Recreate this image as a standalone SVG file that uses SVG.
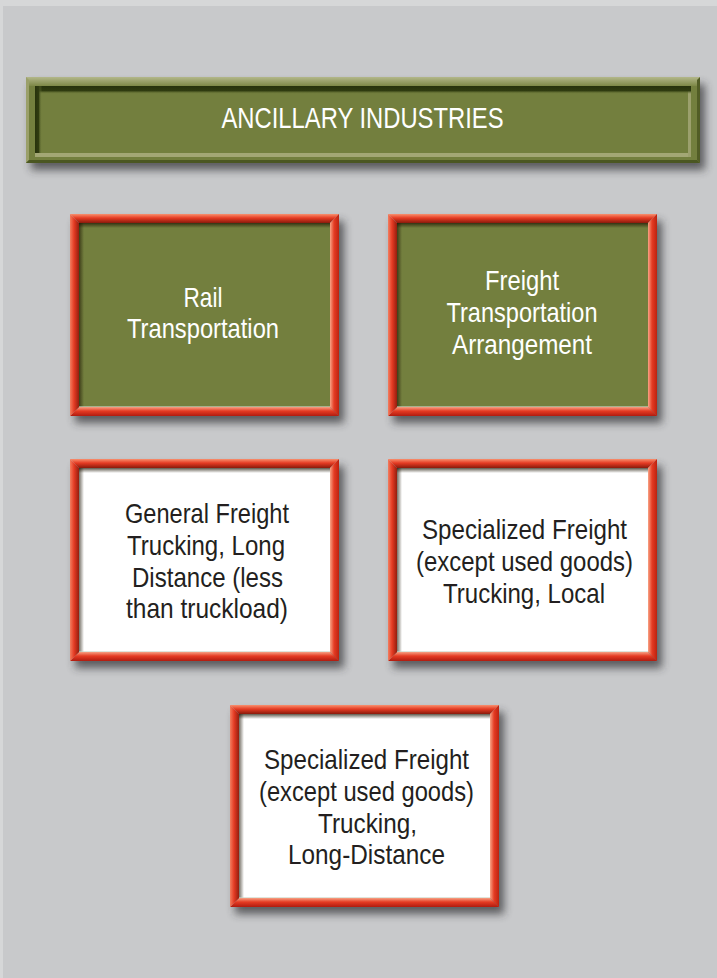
<svg xmlns="http://www.w3.org/2000/svg" xmlns:xlink="http://www.w3.org/1999/xlink" width="717" height="978" viewBox="0 0 717 978">
  <style>
    .lbl { font-family: "Liberation Sans", Arial, sans-serif; font-size: 28px; text-anchor: middle; }
    .on-green { fill: #ffffff; }
    .on-white { fill: #231f20; }
    .title { font-family: "Liberation Sans", Arial, sans-serif; font-size: 30px; fill: #ffffff; text-anchor: middle; }
    .shadow { fill: #2e2f33; opacity: 0.7; filter: url(#soft); }
    .green { fill: #737f3e; }
    .white { fill: #ffffff; }
  </style>
  <defs>
    <filter id="soft" x="-10%" y="-10%" width="120%" height="130%">
      <feGaussianBlur stdDeviation="4"/>
    </filter>
    <linearGradient id="insetTop" x1="0" y1="0" x2="0" y2="1">
      <stop offset="0" stop-color="#1a1200" stop-opacity="0.7"/>
      <stop offset="1" stop-color="#1a1200" stop-opacity="0"/>
    </linearGradient>
    <linearGradient id="insetLeft" x1="0" y1="0" x2="1" y2="0">
      <stop offset="0" stop-color="#1a1200" stop-opacity="0.6"/>
      <stop offset="1" stop-color="#1a1200" stop-opacity="0"/>
    </linearGradient>
    <!-- bevel ramps: outer edge to inner edge of each side of the frame -->
    <linearGradient id="ringTop" x1="0" y1="0" x2="0" y2="1">
      <stop offset="0" stop-color="#f8906f"/>
      <stop offset="0.45" stop-color="#e53b23"/>
      <stop offset="1" stop-color="#8a1a0c"/>
    </linearGradient>
    <linearGradient id="ringBottom" x1="0" y1="0" x2="0" y2="1">
      <stop offset="0" stop-color="#f6a083"/>
      <stop offset="0.45" stop-color="#e53b23"/>
      <stop offset="1" stop-color="#b01c10"/>
    </linearGradient>
    <linearGradient id="ringLeft" x1="0" y1="0" x2="1" y2="0">
      <stop offset="0" stop-color="#f27e60"/>
      <stop offset="0.45" stop-color="#e53b23"/>
      <stop offset="1" stop-color="#951d0e"/>
    </linearGradient>
    <linearGradient id="ringRight" x1="0" y1="0" x2="1" y2="0">
      <stop offset="0" stop-color="#f8a486"/>
      <stop offset="0.45" stop-color="#e53b23"/>
      <stop offset="1" stop-color="#bc220f"/>
    </linearGradient>
    <linearGradient id="olivTop" x1="0" y1="0" x2="0" y2="1">
      <stop offset="0" stop-color="#b3b78a"/>
      <stop offset="1" stop-color="#7d8846"/>
    </linearGradient>
    <linearGradient id="oliveInsetTop" x1="0" y1="0" x2="0" y2="1">
      <stop offset="0" stop-color="#27320c"/>
      <stop offset="0.6" stop-color="#2f3b10"/>
      <stop offset="1" stop-color="#737f3e" stop-opacity="0"/>
    </linearGradient>
    <linearGradient id="oliveInsetLeft" x1="0" y1="0" x2="1" y2="0">
      <stop offset="0" stop-color="#27320c"/>
      <stop offset="0.5" stop-color="#2f3b10"/>
      <stop offset="1" stop-color="#737f3e" stop-opacity="0"/>
    </linearGradient>

    <!-- red bevelled frame, 269 x 202, 9px border; drawn over the panel fill -->
    <g id="frame">
      <polygon points="0,0 269,0 260,9 9,9" fill="url(#ringTop)"/>
      <polygon points="0,202 9,193 260,193 269,202" fill="url(#ringBottom)"/>
      <polygon points="0,0 9,9 9,193 0,202" fill="url(#ringLeft)"/>
      <polygon points="269,0 269,202 260,193 260,9" fill="url(#ringRight)"/>
      <rect x="9" y="9" width="251" height="5" fill="url(#insetTop)"/>
      <rect x="9" y="9" width="5" height="184" fill="url(#insetLeft)"/>
      <rect x="9" y="192" width="251" height="1" fill="#c9d3c4" opacity="0.6"/>
    </g>
  </defs>

  <!-- page -->
  <rect x="0" y="0" width="717" height="978" fill="#d6d7d8"/>
  <rect x="3" y="6" width="714" height="972" fill="#c8c9cb"/>

  <!-- title banner -->
  <g id="node-title">
    <rect class="shadow" x="31" y="84" width="674" height="86"/>
    <g transform="translate(26,77)">
      <rect x="0" y="0" width="674" height="86" fill="#737f3e"/>
      <rect x="0" y="0" width="674" height="9" fill="url(#olivTop)"/>
      <polygon points="0,0 3,3 3,83 0,86" fill="#9ba06a"/>
      <polygon points="0,86 3,83 671,83 674,86" fill="#4b5722"/>
      <polygon points="674,0 674,86 671,83 671,3" fill="#525d26"/>
      <rect x="9" y="76" width="656" height="4" fill="#a3a775"/>
      <rect x="662" y="9" width="3" height="71" fill="#9ca06d"/>
      <rect x="9" y="9" width="656" height="8" fill="url(#oliveInsetTop)"/>
      <rect x="9" y="9" width="7" height="67" fill="url(#oliveInsetLeft)"/>
    </g>
    <text class="title" x="362.5" y="128" textLength="282" lengthAdjust="spacingAndGlyphs">ANCILLARY INDUSTRIES</text>
  </g>

  <!-- Rail Transportation -->
  <g id="node-rail">
    <rect class="shadow" x="75" y="221" width="269" height="202"/>
    <rect class="green" x="79" y="223" width="251" height="184"/>
    <use xlink:href="#frame" href="#frame" x="70" y="214"/>
    <text class="lbl on-green" x="203" y="307" textLength="39" lengthAdjust="spacingAndGlyphs">Rail</text>
    <text class="lbl on-green" x="203" y="338" textLength="152" lengthAdjust="spacingAndGlyphs">Transportation</text>
  </g>

  <!-- Freight Transportation Arrangement -->
  <g id="node-arrangement">
    <rect class="shadow" x="393" y="221" width="269" height="202"/>
    <rect class="green" x="397" y="223" width="251" height="184"/>
    <use xlink:href="#frame" href="#frame" x="388" y="214"/>
    <text class="lbl on-green" x="522" y="290" textLength="74" lengthAdjust="spacingAndGlyphs">Freight</text>
    <text class="lbl on-green" x="522" y="322" textLength="151" lengthAdjust="spacingAndGlyphs">Transportation</text>
    <text class="lbl on-green" x="522" y="354" textLength="140" lengthAdjust="spacingAndGlyphs">Arrangement</text>
  </g>

  <!-- General Freight Trucking, Long Distance (LTL) -->
  <g id="node-general-ltl">
    <rect class="shadow" x="75" y="466" width="269" height="202"/>
    <rect class="white" x="79" y="468" width="251" height="184"/>
    <use xlink:href="#frame" href="#frame" x="70" y="459"/>
    <text class="lbl on-white" x="207" y="523" textLength="164" lengthAdjust="spacingAndGlyphs">General Freight</text>
    <text class="lbl on-white" x="206" y="555" textLength="158" lengthAdjust="spacingAndGlyphs">Trucking, Long</text>
    <text class="lbl on-white" x="207.5" y="587" textLength="151" lengthAdjust="spacingAndGlyphs">Distance (less</text>
    <text class="lbl on-white" x="207" y="618" textLength="162" lengthAdjust="spacingAndGlyphs">than truckload)</text>
  </g>

  <!-- Specialized Freight Trucking, Local -->
  <g id="node-specialized-local">
    <rect class="shadow" x="393" y="466" width="269" height="202"/>
    <rect class="white" x="397" y="468" width="251" height="184"/>
    <use xlink:href="#frame" href="#frame" x="388" y="459"/>
    <text class="lbl on-white" x="524.5" y="539" textLength="205" lengthAdjust="spacingAndGlyphs">Specialized Freight</text>
    <text class="lbl on-white" x="524.5" y="571" textLength="217" lengthAdjust="spacingAndGlyphs">(except used goods)</text>
    <text class="lbl on-white" x="524" y="603" textLength="162" lengthAdjust="spacingAndGlyphs">Trucking, Local</text>
  </g>

  <!-- Specialized Freight Trucking, Long-Distance -->
  <g id="node-specialized-long">
    <rect class="shadow" x="235" y="712" width="269" height="202"/>
    <rect class="white" x="239" y="714" width="251" height="184"/>
    <use xlink:href="#frame" href="#frame" x="230" y="705"/>
    <text class="lbl on-white" x="366.5" y="769" textLength="205" lengthAdjust="spacingAndGlyphs">Specialized Freight</text>
    <text class="lbl on-white" x="366.5" y="801" textLength="215" lengthAdjust="spacingAndGlyphs">(except used goods)</text>
    <text class="lbl on-white" x="367.5" y="833" textLength="99" lengthAdjust="spacingAndGlyphs">Trucking,</text>
    <text class="lbl on-white" x="366.5" y="864" textLength="157" lengthAdjust="spacingAndGlyphs">Long-Distance</text>
  </g>

  <!-- no connectors between the boxes -->
  <g id="connectors"/>
</svg>
